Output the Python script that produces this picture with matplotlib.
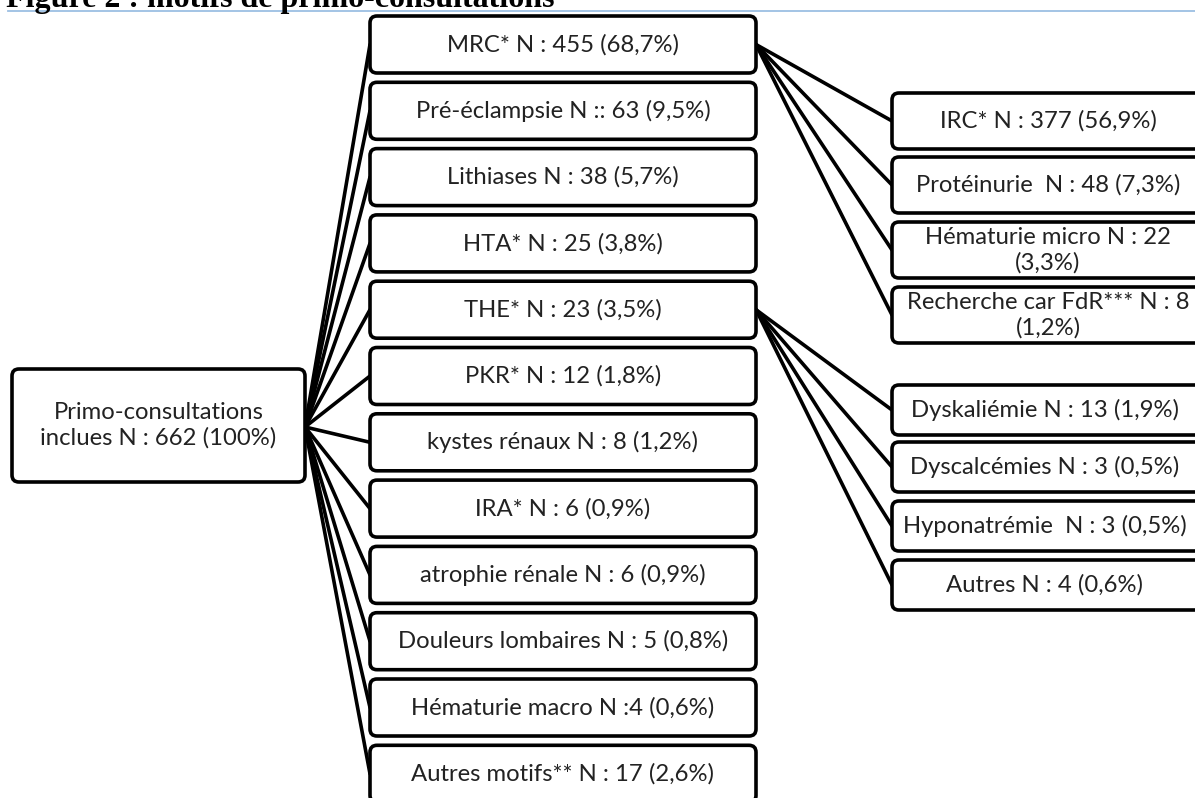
import matplotlib
matplotlib.use("Agg")
import matplotlib.pyplot as plt
from matplotlib.patches import FancyBboxPatch

# root
root_label = "Primo-consultations\ninclues N : 662 (100%)"

# motifs (middle column)
motifs = ["MRC*", "Pré-éclampsie", "Lithiases", "HTA*", "THE*", "PKR*",
          "kystes rénaux", "IRA*", "atrophie rénale", "Douleurs lombaires",
          "Hématurie macro", "Autres motifs**"]
motif_n = [455, 63, 38, 25, 23, 12, 8, 6, 6, 5, 4, 17]
motif_pct = ["68,7", "9,5", "5,7", "3,8", "3,5", "1,8", "1,2", "0,9", "0,9",
             "0,8", "0,6", "2,6"]
motif_sep = [" N : ", " N :: ", " N : ", " N : ", " N : ", " N : ", " N : ",
             " N : ", " N : ", " N : ", " N :", " N : "]

# sous-motifs MRC
mrc_sub = ["IRC*", "Protéinurie ", "Hématurie micro", "Recherche car FdR***"]
mrc_n = [377, 48, 22, 8]
mrc_pct = ["56,9", "7,3", "3,3", "1,2"]
mrc_wrap = [False, False, True, True]

# sous-motifs THE
the_sub = ["Dyskaliémie", "Dyscalcémies", "Hyponatrémie ", "Autres"]
the_n = [13, 3, 3, 4]
the_pct = ["1,9", "0,5", "0,5", "0,6"]

plt.rcParams['font.family'] = ['Lato', 'DejaVu Sans']

fig = plt.figure(figsize=(11.95, 7.98), dpi=100)
ax = fig.add_axes([0, 0, 1, 1])
ax.set_xlim(0, 1195)
ax.set_ylim(798, 0)
ax.axis("off")

FS = 17.2
LW = 2.6


def box(x0, y0, x1, y1, text, cx=None):
    p = FancyBboxPatch((x0, y0), x1 - x0, y1 - y0,
                       boxstyle="round,pad=0,rounding_size=7",
                       fc="white", ec="black", lw=LW, zorder=3)
    ax.add_patch(p)
    if cx is None:
        cx = (x0 + x1) / 2
    ax.text(cx, (y0 + y1) / 2, text, ha="center", va="center",
            fontsize=FS, color="#222222", zorder=4, linespacing=1.25)


# title (partly cut at top)
ax.text(6, 7, "Figure 2 : motifs de primo-consultations", fontsize=23,
        fontweight="bold", family="Liberation Serif", va="baseline", ha="left")
ax.plot([8, 1195], [10.5, 10.5], color="#9cbfe3", lw=1.3)

# root box
rx0, ry0, rx1, ry1 = 12, 369, 305, 482
box(rx0, ry0, rx1, ry1, root_label)
root_pt = (rx1, 427)

# middle boxes
mx0, mx1 = 370, 756
m_top = 16
m_step = 66.3
m_h = 57
m_centers = []
for i, name in enumerate(motifs):
    y0 = m_top + i * m_step
    y1 = y0 + m_h
    txt = name + motif_sep[i] + str(motif_n[i]) + " (" + motif_pct[i] + "%)"
    box(mx0, y0, mx1, y1, txt)
    yc = (y0 + y1) / 2
    m_centers.append(yc)
    ax.plot([root_pt[0], mx0], [root_pt[1], yc], color="black", lw=LW,
            zorder=2, solid_capstyle="round")

# right boxes (MRC)
sx0, sx1 = 892, 1210
mrc_tops = [93, 157, 222, 287]
for i, name in enumerate(mrc_sub):
    y0 = mrc_tops[i]
    y1 = y0 + 56
    sep = "\n" if mrc_wrap[i] else " "
    txt = name + " N : " + str(mrc_n[i]) + sep + "(" + mrc_pct[i] + "%)"
    box(sx0, y0, sx1, y1, txt, cx=1048)
    ax.plot([mx1, sx0], [m_centers[0], (y0 + y1) / 2], color="black", lw=LW,
            zorder=2, solid_capstyle="round")

# right boxes (THE)
the_tops = [385, 442, 501, 560]
for i, name in enumerate(the_sub):
    y0 = the_tops[i]
    y1 = y0 + 50
    txt = name + " N : " + str(the_n[i]) + " (" + the_pct[i] + "%)"
    box(sx0, y0, sx1, y1, txt, cx=1045)
    ax.plot([mx1, sx0], [m_centers[4], (y0 + y1) / 2], color="black", lw=LW,
            zorder=2, solid_capstyle="round")

fig.savefig("out.png", dpi=100)
